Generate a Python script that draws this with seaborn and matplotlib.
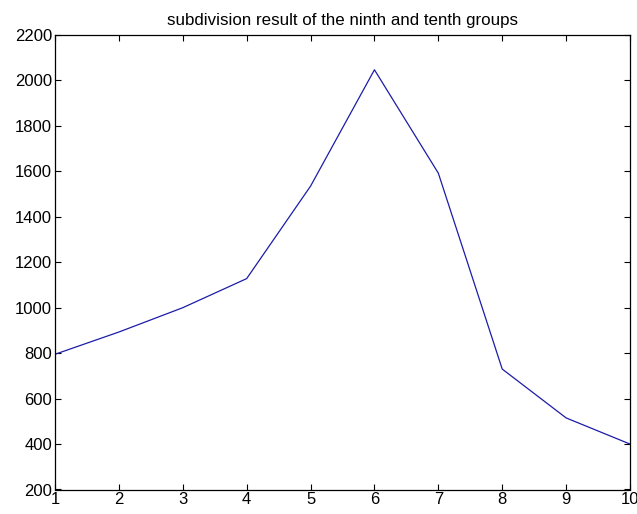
import matplotlib
matplotlib.use("Agg")
import matplotlib.pyplot as plt
import seaborn as sns
import pandas as pd

groups = [1, 2, 3, 4, 5, 6, 7, 8, 9, 10]
values = [795, 893, 1000, 1128, 1535, 2047, 1592, 730, 515, 400]
title = "subdivision result of the ninth and tenth groups"

sns.set_style("white")
plt.rcParams['font.family'] = ['Liberation Sans', 'DejaVu Sans']
plt.rcParams['text.color'] = 'black'

df = pd.DataFrame({"group": groups, "value": values})

fig = plt.figure(figsize=(6.37, 5.14), dpi=100)
ax = fig.add_axes([55/637, 1 - 489.5/514, 575/637, (489.5 - 35)/514])
sns.lineplot(data=df, x="group", y="value", ax=ax, color="#1c1ca8", linewidth=0.9)

ax.set_xlim(1, 10)
ax.set_ylim(200, 2200)
ax.set_xticks(range(1, 11))
ax.set_yticks(range(200, 2201, 200))
ax.set_xlabel("")
ax.set_ylabel("")
ax.set_title(title, fontsize=12.2, pad=7, color="black")
for s in ax.spines.values():
    s.set_visible(True)
    s.set_color("black")
    s.set_linewidth(0.9)
ax.tick_params(direction="in", top=True, right=True, bottom=True, left=True,
               length=4, width=0.8, labelsize=12, pad=2, colors="black")

fig.savefig("out.png", dpi=100)
